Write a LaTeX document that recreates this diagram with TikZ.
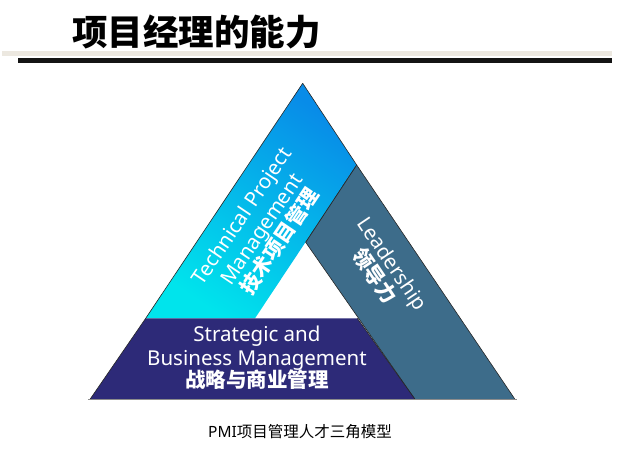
\documentclass[tikz,border=0pt]{standalone}
\usepackage{fontspec}
\setmainfont{Noto Sans}
\newfontfamily\cjk{Noto Sans CJK SC}
\usetikzlibrary{shadings}
\definecolor{topblue}{RGB}{8,140,232}
\definecolor{lowcyan}{RGB}{0,228,236}
\definecolor{teal}{RGB}{61,108,138}
\definecolor{navy}{RGB}{45,42,120}
\definecolor{beige}{RGB}{236,232,224}
\tikzset{
  band/.style={draw=black!85, line width=0.6pt, line join=miter},
  bandtext/.style={text=white, align=center, font=\fontsize{20.5}{24}\selectfont, inner sep=0pt}
}
\begin{document}
\begin{tikzpicture}[x=1pt,y=-1pt]
\useasboundingbox (0,0) rectangle (639,451);
% header
\fill[beige] (2,51) rectangle (612,56);
\fill[black!92] (18,58) rectangle (612,63);
\node[anchor=west, inner sep=0pt, font=\cjk\bfseries\fontsize{35.5}{40}\selectfont] (title) at (72,32) {项目经理的能力};
% triangle coordinates
\coordinate (A) at (302.7,83.3);
\coordinate (R) at (356.7,165);
\coordinate (BR) at (515,399.3);
\coordinate (BL) at (90,399.3);
\coordinate (I) at (305.7,242.3);
\coordinate (IL) at (255,318.3);
\coordinate (IR) at (357.3,318.3);
\coordinate (OL) at (145.7,318.3);
\coordinate (NB) at (415,399.3);
% cyan band
\shade[bottom color=lowcyan, top color=topblue, shading angle=-34]
  (A) -- (R) -- (IL) -- (OL) -- cycle;
\draw[band] (A) -- (R) -- (I);
\draw[band] (A) -- (OL);
% teal band
\fill[teal] (R) -- (BR) -- (NB) -- (I) -- cycle;
\draw[band] (R) -- (BR);
\draw[band] (R) -- (I) -- (NB);
% navy band
\fill[navy] (OL) -- (IR) -- (NB) -- (BL) -- cycle;
\draw[band] (OL) -- (BL);
\draw[band] (IR) -- (NB);
\draw[black!45, line width=0.6pt] (88,399.6) -- (517,399.6);
% texts
\node[bandtext, rotate=56] (tpm) at (261,229)
  {Technical Project\\Management\\[-2pt]{\cjk\bfseries 技术项目管理}};
\node[bandtext, rotate=-56] (lead) at (383,270)
  {Leadership\\[-2pt]{\cjk\bfseries 领导力}};
\node[bandtext] (sbm) at (257,357.5)
  {Strategic and\\Business Management\\[-2pt]{\cjk\bfseries 战略与商业管理}};
% caption
\node[inner sep=0pt, font=\fontsize{15.5}{18}\selectfont] (cap) at (300,432)
  {PMI{\cjk 项目管理人才三角模型}};
\end{tikzpicture}
\end{document}
